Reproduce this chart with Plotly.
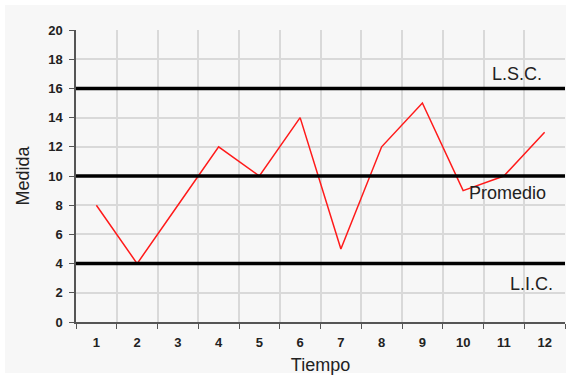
import plotly.graph_objects as go

tiempo = ["1", "2", "3", "4", "5", "6", "7", "8", "9", "10", "11", "12"]
medida = [8, 4, 8, 12, 10, 14, 5, 12, 15, 9, 10, 13]
limites = {"L.S.C.": 16, "Promedio": 10, "L.I.C.": 4}
y_ticks = list(range(0, 21, 2))

W, H = 566, 381
ml, mr, mt, mb = 76, 1, 30, 59
pw, ph = W - ml - mr, H - mt - mb

fig = go.Figure()
fig.add_trace(go.Scatter(x=tiempo, y=medida, mode="lines",
                         line=dict(color="#ff1a1a", width=1.5),
                         showlegend=False, hoverinfo="x+y"))

for name, val in limites.items():
    fig.add_hline(y=val, line=dict(color="black", width=3.5), layer="above")

# labels for limit lines
fig.add_annotation(x=10.32, y=17.0, text="L.S.C.", showarrow=False,
                   font=dict(size=18, color="#222"))
fig.add_annotation(x=10.1, y=8.85, text="Promedio", showarrow=False,
                   font=dict(size=18, color="#222"))
fig.add_annotation(x=10.69, y=2.6, text="L.I.C.", showarrow=False,
                   font=dict(size=18, color="#222"))

# background panel
def px2x(px):
    return (px - ml) / pw

def py2y(py):
    return (H - mb - py) / ph

fig.add_shape(type="rect", xref="paper", yref="paper",
              x0=px2x(5), x1=px2x(566), y0=py2y(373), y1=py2y(5),
              fillcolor="#f7f7f7", line=dict(width=0), layer="below")

fig.update_layout(
    width=W, height=H,
    margin=dict(l=ml, r=mr, t=mt, b=mb),
    paper_bgcolor="white",
    plot_bgcolor="#f8f8f8",
    font=dict(family="Liberation Sans, Arial, sans-serif", color="#222"),
)
fig.update_xaxes(
    type="category", range=[-0.5, 11.5],
    tickson="boundaries", ticks="outside", ticklen=5, tickcolor="#555",
    ticklabelstandoff=8,
    showgrid=True, gridcolor="#d9d9d9", gridwidth=1.5,
    showline=True, linecolor="#555", linewidth=1.5,
    tickfont=dict(size=13, family="Liberation Sans, Arial", weight="bold", color="#222"),
    title=dict(text="Tiempo", font=dict(size=18, color="#222"), standoff=9),
    zeroline=False,
)
fig.update_yaxes(
    range=[0, 20], tickvals=y_ticks, ticktext=[str(v) for v in y_ticks],
    ticks="outside", ticklen=5, tickcolor="#555",
    ticklabelstandoff=4,
    showgrid=True, gridcolor="#d9d9d9", gridwidth=1.5,
    showline=True, linecolor="#555", linewidth=1.5,
    tickfont=dict(size=13, family="Liberation Sans, Arial", weight="bold", color="#222"),
    title=dict(text="Medida", font=dict(size=18, color="#222"), standoff=14),
    zeroline=False,
)

fig.write_html("out.html", config={"displayModeBar": False},
               post_script="document.body.style.margin='0';document.body.style.overflow='hidden';")
